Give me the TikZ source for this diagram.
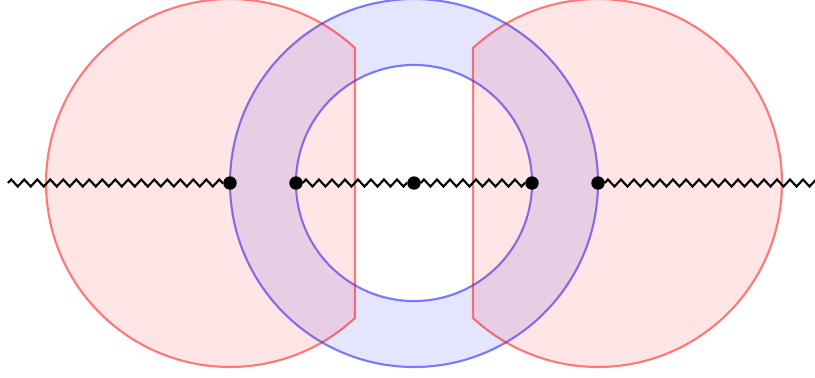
\documentclass[tikz,border=0pt]{standalone}
\usetikzlibrary{decorations.pathmorphing}

\newcommand*{\Rout}{1.84}
\newcommand*{\Rin}{1.18}
\newcommand*{\cut}{0.59}
\newcommand*{\xend}{4.06}

\begin{document}
\begin{tikzpicture}
[
	dot/.style={circle,draw,fill,inner sep=0pt,minimum size=0.12cm},
	spring/.style={decorate,decoration={zigzag,segment length=3.7pt,amplitude=1pt},line width=0.6pt},
	ring/.style={draw=blue,draw opacity=0.5,fill=blue,fill opacity=0.1,even odd rule,line width=0.6pt},
	lobe/.style={draw=red,draw opacity=0.5,fill=red,fill opacity=0.1,line width=0.6pt}
]
	\useasboundingbox (-4.14,-1.94) rectangle (4.01,1.83);
	\pgfmathsetmacro{\ang}{acos((\Rout-\cut)/\Rout)}

	% annulus
	\draw[ring] (0,0) circle[radius=\Rout] (0,0) circle[radius=\Rin];

	% cut discs
	\draw[lobe] ([shift={(-\Rout,0)}]\ang:\Rout) arc[start angle=\ang, end angle=360-\ang, radius=\Rout] -- cycle;
	\draw[lobe] ([shift={(\Rout,0)}]180-\ang:\Rout) arc[start angle=180-\ang, end angle=-180+\ang, radius=\Rout] -- cycle;

	% points
	\coordinate (endL) at (-\xend,0);
	\coordinate (endR) at (\xend,0);
	\node[dot] (outL) at (-\Rout,0) {};
	\node[dot] (inL) at (-\Rin,0) {};
	\node[dot] (mid) at (0,0) {};
	\node[dot] (inR) at (\Rin,0) {};
	\node[dot] (outR) at (\Rout,0) {};

	% springs
	\draw[spring] (endL) -- (outL);
	\draw[spring] (inL) -- (mid);
	\draw[spring] (mid) -- (inR);
	\draw[spring] (outR) -- (endR);

\end{tikzpicture}
\end{document}
